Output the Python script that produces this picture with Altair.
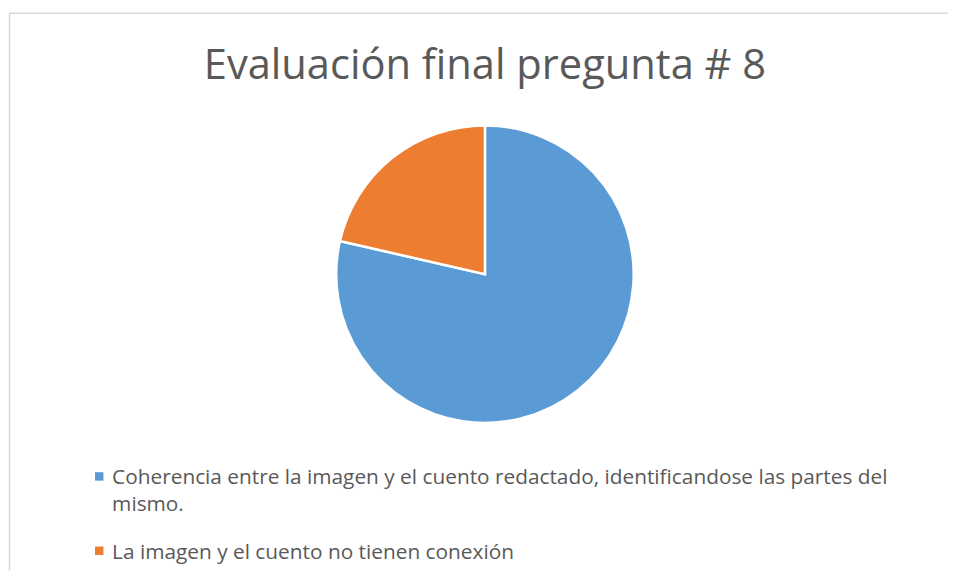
import altair as alt
import pandas as pd

title_text = "Evaluación final pregunta # 8"
categories = [
    "Coherencia entre la imagen y el cuento redactado, identificandose las partes del mismo.",
    "La imagen y el cuento no tienen conexión",
]
legend_lines = [
    "Coherencia entre la imagen y el cuento redactado, identificandose las partes del\nmismo.",
    "La imagen y el cuento no tienen conexión",
]
values = [11, 3]
colors = ["#5B9BD5", "#ED7D31"]

df = pd.DataFrame({"cat": categories, "val": values, "order": [0, 1], "line": legend_lines})

color = alt.Color("cat:N", scale=alt.Scale(domain=categories, range=colors), legend=None)
FONT = "Open Sans"
GRAY = "#595959"

base = alt.Chart(df)

pie = base.mark_arc(stroke="white", strokeWidth=2.5, outerRadius=150).encode(
    theta=alt.Theta("val:Q", stack=True),
    order=alt.Order("order:Q"),
    color=color,
    x=alt.value(480),
    y=alt.value(266),
)

title = base.transform_filter("datum.order == 0").mark_text(
    font=FONT, fontSize=42, color=GRAY, align="center", baseline="alphabetic"
).encode(text=alt.value(title_text), x=alt.value(480), y=alt.value(69))

border_top = base.transform_filter("datum.order == 0").mark_rule(color="#d9d9d9", strokeWidth=1.5).encode(
    x=alt.value(0), x2=alt.value(948), y=alt.value(3)
)
border_left = base.transform_filter("datum.order == 0").mark_rule(color="#d9d9d9", strokeWidth=1.5).encode(
    x=alt.value(0.5), y=alt.value(3), y2=alt.value(565)
)

sq1 = base.transform_filter("datum.order == 0").mark_square(size=72, opacity=1).encode(
    color=color, x=alt.value(91), y=alt.value(470)
)
sq2 = base.transform_filter("datum.order == 1").mark_square(size=72, opacity=1).encode(
    color=color, x=alt.value(91), y=alt.value(545)
)
tx1 = base.transform_filter("datum.order == 0").mark_text(
    font=FONT, fontSize=21, color=GRAY, align="left", baseline="alphabetic", lineBreak="\n", lineHeight=27
).encode(text="line:N", x=alt.value(104), y=alt.value(478))
tx2 = base.transform_filter("datum.order == 1").mark_text(
    font=FONT, fontSize=21, color=GRAY, align="left", baseline="alphabetic"
).encode(text="line:N", x=alt.value(104), y=alt.value(553))

chart = alt.layer(pie, title, border_top, border_left, sq1, sq2, tx1, tx2).properties(
    width=948, height=565, padding=0,
    autosize=alt.AutoSizeParams(type="fit", contains="padding"),
).configure_view(stroke=None)

chart.save("out.html", embed_options={"renderer": "svg", "actions": False})
